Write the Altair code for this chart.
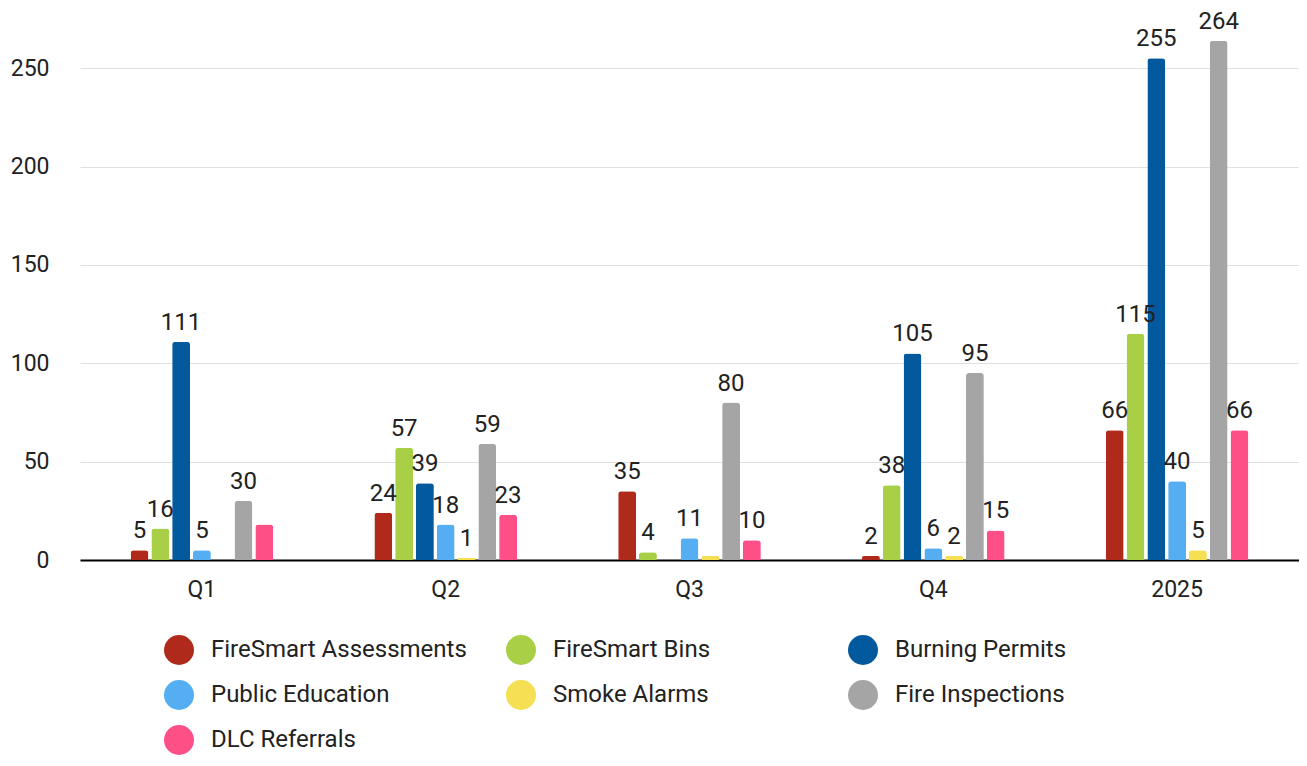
import altair as alt
import pandas as pd

groups = ["Q1", "Q2", "Q3", "Q4", "2025"]
series = ["FireSmart Assessments", "FireSmart Bins", "Burning Permits",
          "Public Education", "Smoke Alarms", "Fire Inspections", "DLC Referrals"]
colors = ["#b02a1c", "#a8cf46", "#03599e", "#54aef1", "#f5df52", "#a5a5a5", "#fe4f87"]

fire_smart_assessments = [5, 24, 35, 2, 66]
fire_smart_bins = [16, 57, 4, 38, 115]
burning_permits = [111, 39, 0, 105, 255]
public_education = [5, 18, 11, 6, 40]
smoke_alarms = [0, 1, 2, 2, 5]
fire_inspections = [30, 59, 80, 95, 264]
dlc_referrals = [18, 23, 10, 15, 66]

# labels that the reference does not show (group, series)
hidden_labels = [("Q1", "DLC Referrals"), ("Q3", "Smoke Alarms")]

values = [fire_smart_assessments, fire_smart_bins, burning_permits,
          public_education, smoke_alarms, fire_inspections, dlc_referrals]

rows = []
for s, vals in zip(series, values):
    for g, v in zip(groups, vals):
        show = v > 0 and (g, s) not in hidden_labels
        rows.append({"group": g, "series": s, "value": v,
                     "label": str(v) if show else ""})
df = pd.DataFrame(rows)

FONT = "Roboto"

x = alt.X("group:N", sort=groups, title=None,
          scale=alt.Scale(paddingInner=0.403, paddingOuter=0.2015),
          axis=alt.Axis(labelAngle=0, labelFontSize=23, labelColor="#222222",
                        labelFont=FONT, ticks=False, labelPadding=18,
                        domainColor="#000000", domainWidth=2))
xo = alt.XOffset("series:N", sort=series,
                 scale=alt.Scale(paddingInner=0.14, paddingOuter=0.07))
y = alt.Y("value:Q", title=None,
          scale=alt.Scale(domain=[0, 275], nice=False),
          axis=alt.Axis(values=[0, 50, 100, 150, 200, 250], labelFontSize=23,
                        labelColor="#222222", labelFont=FONT, ticks=False,
                        domain=False, gridColor="#e0e0e0", labelPadding=31,
                        minExtent=72))

color = alt.Color("series:N", sort=series,
                  scale=alt.Scale(domain=series, range=colors),
                  legend=alt.Legend(title=None, orient="none", legendX=84, legendY=616,
                                    direction="horizontal",
                                    columns=3, gridAlign="all", columnPadding=39,
                                    rowPadding=15, symbolType="circle",
                                    symbolSize=900, symbolStrokeWidth=0,
                                    labelFontSize=24, labelFont=FONT, labelLimit=600,
                                    labelColor="#222222", labelOffset=17))

bars = alt.Chart(df).mark_bar(cornerRadiusTopLeft=3, cornerRadiusTopRight=3).encode(
    x=x, xOffset=xo, y=y, color=color)

text = alt.Chart(df).mark_text(baseline="alphabetic", dy=-12, fontSize=24, font=FONT,
                               color="#222222").encode(
    x=alt.X("group:N", sort=groups), xOffset=xo, y="value:Q", text="label:N")

chart = alt.layer(bars, text).properties(
    width=1219, height=541,
    autosize=alt.AutoSizeParams(type="none"),
    padding={"left": 72, "top": 11, "right": 0, "bottom": 198},
).configure_view(stroke=None).configure_axisY(grid=True).configure_axisX(grid=False)

chart.save("out.html", embed_options={"renderer": "svg", "actions": False})
